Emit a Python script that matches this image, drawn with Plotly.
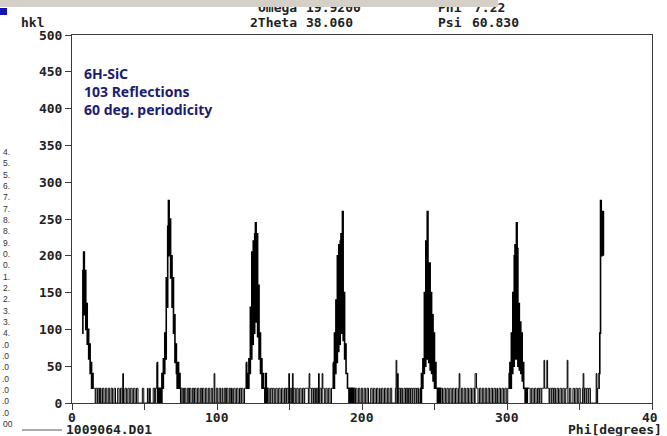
import plotly.graph_objects as go

# ---------------- data ----------------
PHI_STEP = 0.5
LEVELS = {"0": 0, "1": 20, "2": 40, "3": 58}   # background count levels

PEAK1_START = 7.0
PEAK1 = [95, 180, 205, 120, 180, 100, 135, 80, 100, 60, 80, 40, 55, 20, 40, 20]
BG1_START = 15.0
BG1 = "1101101101 0011001100 1100110011 0001100110 2001100110 0110011001 1000000110 0000100100 0011011"
PEAK2_START = 58.5
PEAK2 = [55, 0, 20, 0, 20, 20, 0, 40, 20, 60, 40, 95, 60, 170, 130, 240, 275, 200,
         250, 170, 200, 130, 170, 95, 120, 55, 80, 40, 20, 55, 20, 40, 20, 0]
BG2_START = 75.5
BG2 = "0110110011 0110011011 0011001101 1001100110 0110020011 0011001001 1011001101 0011001100 110110011"
PEAK3_START = 120.0
PEAK3 = [55, 20, 40, 20, 60, 40, 130, 60, 205, 80, 220, 95, 230, 245, 110,
         230, 90, 160, 60, 95, 40, 60, 20, 40, 20, 20, 0, 40, 20, 0]
BG3_START = 135.0
BG3 = "1100110110 0110011001 1001101102 0110201100 1100110011 0111110211 0110110110 2011021100 1100110011"
PEAK4_START = 180.0
PEAK4 = [55, 20, 95, 40, 140, 55, 200, 70, 215, 80, 220, 230, 95, 260, 85,
         150, 60, 80, 40, 40, 20, 20, 0, 20, 20, 0, 20, 0, 20, 0]
BG4_START = 195.0
BG4 = "0110011001 1001100110 0011001100 1100100110 0110011001 1000001302 0110110011 0110110110 1101101100"
PEAK5_START = 240.0
PEAK5 = [20, 0, 40, 20, 60, 40, 150, 50, 220, 60, 260, 180, 55, 190, 45,
         150, 40, 120, 30, 95, 20, 55, 20, 20, 0, 20, 0, 20]
BG5_START = 254.0
BG5 = "0110011001 1001100110 0110012001 1001100110 0110011022 1100110011 0011001100 1100110010 0110011001 1001"
PEAK6_START = 301.0
PEAK6 = [20, 40, 55, 20, 95, 40, 150, 50, 200, 215, 60, 245, 210, 50,
         135, 45, 110, 40, 95, 30, 55, 20, 20, 0, 20, 0, 20, 20]
BG6_START = 315.0
BG6 = "1100110011 0011011011 1311131101 1011011001 1001100110 0113001100 0110011001 1000120110 1101100000 000201"
PEAK7_START = 363.0
PEAK7 = [20, 40, 95, 275, 200, 220, 260, 200]

Y_TICKS = [0, 50, 100, 150, 200, 250, 300, 350, 400, 450, 500]
X_TICKS = [0, 50, 100, 150, 200, 250, 300, 350, 400]
X_LABEL_VALUES = [0, 100, 200, 300, 400]
X_LABEL_TEXT = ["0", "100", "200", "300", "40"]

INFO_TEXT = ["6H-SiC", "103 Reflections", "60 deg. periodicity"]
SIDE_FRAGMENTS = ["4.", "5.", "5.", "6.", "7.", "7.", "8.", "8.", "9.", "0.", "0.", "1.",
                  "2.", "2.", "3.", "3.", "4.", ".0", ".0", ".0", ".0", ".0", ".0", ".0", "00"]

# ---------------- build series ----------------
segments = [(PEAK1_START, PEAK1), (BG1_START, BG1), (PEAK2_START, PEAK2), (BG2_START, BG2),
            (PEAK3_START, PEAK3), (BG3_START, BG3), (PEAK4_START, PEAK4), (BG4_START, BG4),
            (PEAK5_START, PEAK5), (BG5_START, BG5), (PEAK6_START, PEAK6), (BG6_START, BG6),
            (PEAK7_START, PEAK7)]
seg_xy = []
for start, seg in segments:
    is_bg = isinstance(seg, str)
    vals = [LEVELS[c] for c in seg.replace(" ", "")] if is_bg else list(seg)
    xs = [start + k * PHI_STEP for k in range(len(vals))]
    seg_xy.append((is_bg, xs, vals))

# ---------------- figure ----------------
W, H = 667, 436
ML, MR, MT, MB = 72, 15, 35, 33
PW, PH = W - ML - MR, H - MT - MB

def fx(px):
    return (px - ML) / PW

def fy(py):
    return (H - MB - py) / PH

MONO = "DejaVu Sans Mono"
fig = go.Figure()
for i, (is_bg, xs, vals) in enumerate(seg_xy):
    # join each segment to the first point of the next one so the step line is continuous
    if i + 1 < len(seg_xy):
        xs = xs + [seg_xy[i + 1][1][0]]
        vals = vals + [seg_xy[i + 1][2][0]]
    fig.add_trace(go.Scatter(x=xs, y=vals, mode="lines",
                             line=dict(color="#000000", width=1.0 if is_bg else 1.6, shape="hv"),
                             showlegend=False, hoverinfo="skip"))

axis_common = dict(showline=True, linecolor="#3a3a3a", linewidth=1, mirror=True,
                   showgrid=False, zeroline=False, ticks="outside", ticklen=6,
                   tickcolor="#3a3a3a", automargin=False,
                   tickfont=dict(family=MONO, size=13, color="#222222", weight="bold"))
fig.update_xaxes(range=[0, 400], tickmode="array", tickvals=X_TICKS, showticklabels=False,
                 **axis_common)
fig.update_yaxes(range=[0, 500], tickmode="array", tickvals=Y_TICKS,
                 ticktext=[str(v) for v in Y_TICKS], **axis_common)

anns = []

def add_text(text, px, py, xanchor="left", size=13, color="#222222", family=MONO, weight="bold"):
    anns.append(dict(text=text, x=fx(px), y=fy(py), xref="paper", yref="paper",
                     xanchor=xanchor, yanchor="middle", showarrow=False,
                     font=dict(family=family, size=size, color=color, weight=weight)))

# x tick labels, placed on the data axis
for v, t in zip(X_LABEL_VALUES, X_LABEL_TEXT):
    anns.append(dict(text=t, x=v, y=fy(417), xref="x", yref="paper",
                     xanchor="left" if t == "40" else "center", xshift=-12 if t == "40" else 0,
                     yanchor="middle", showarrow=False,
                     font=dict(family=MONO, size=13, color="#222222", weight="bold")))

# header lines
add_text("Omega", 299, 8, xanchor="right")
add_text("19.9200", 304, 8)
add_text("Phi", 436, 8)
add_text("7.22", 472, 8)
add_text("hkl", 19, 22)
add_text("2Theta", 299, 22, xanchor="right")
add_text("38.060", 304, 22)
add_text("Psi", 436, 22)
add_text("60.830", 470, 22)
# grey strip covering the top of the first header line (drawn after it)
anns.append(dict(text="\u00a0", x=fx(0), y=fy(0), xref="paper", yref="paper",
                 xanchor="left", yanchor="top", showarrow=False, width=498, height=7,
                 bgcolor="#d4d0c8", borderpad=0, borderwidth=0, font=dict(size=4)))

# info text
for i, t in enumerate(INFO_TEXT):
    add_text(t, 82, 73 + 18 * i, size=14, color="#1c1c72", family="Noto Sans")

# side fragments
for i, t in enumerate(SIDE_FRAGMENTS):
    add_text(t, 0 if t.startswith(".") else 1, 152 + 11.33 * i, size=8.5, color="#333333",
             family="Liberation Sans", weight="normal")

# bottom labels
add_text("1009064.D01", 64, 429)
add_text("Phi[degrees]", 566, 429)

fig.update_layout(annotations=anns)

fig.add_shape(type="rect", xref="paper", yref="paper", x0=fx(0), x1=fx(498), y0=fy(0), y1=fy(7),
              fillcolor="#d4d0c8", line=dict(width=0), layer="above")
fig.add_shape(type="rect", xref="paper", yref="paper", x0=fx(0), x1=fx(7), y0=fy(8), y1=fy(15),
              fillcolor="#1414b4", line=dict(width=0), layer="above")
fig.add_shape(type="line", xref="paper", yref="paper", x0=fx(22), x1=fx(62), y0=fy(430), y1=fy(430),
              line=dict(color="#555555", width=1), layer="above")

fig.update_layout(width=W, height=H, margin=dict(l=ML, r=MR, t=MT, b=MB),
                  paper_bgcolor="#ffffff", plot_bgcolor="#ffffff")

fig.write_html("out.html", config={"displayModeBar": False},
               post_script="document.body.style.margin='0';document.body.style.overflow='hidden';")
